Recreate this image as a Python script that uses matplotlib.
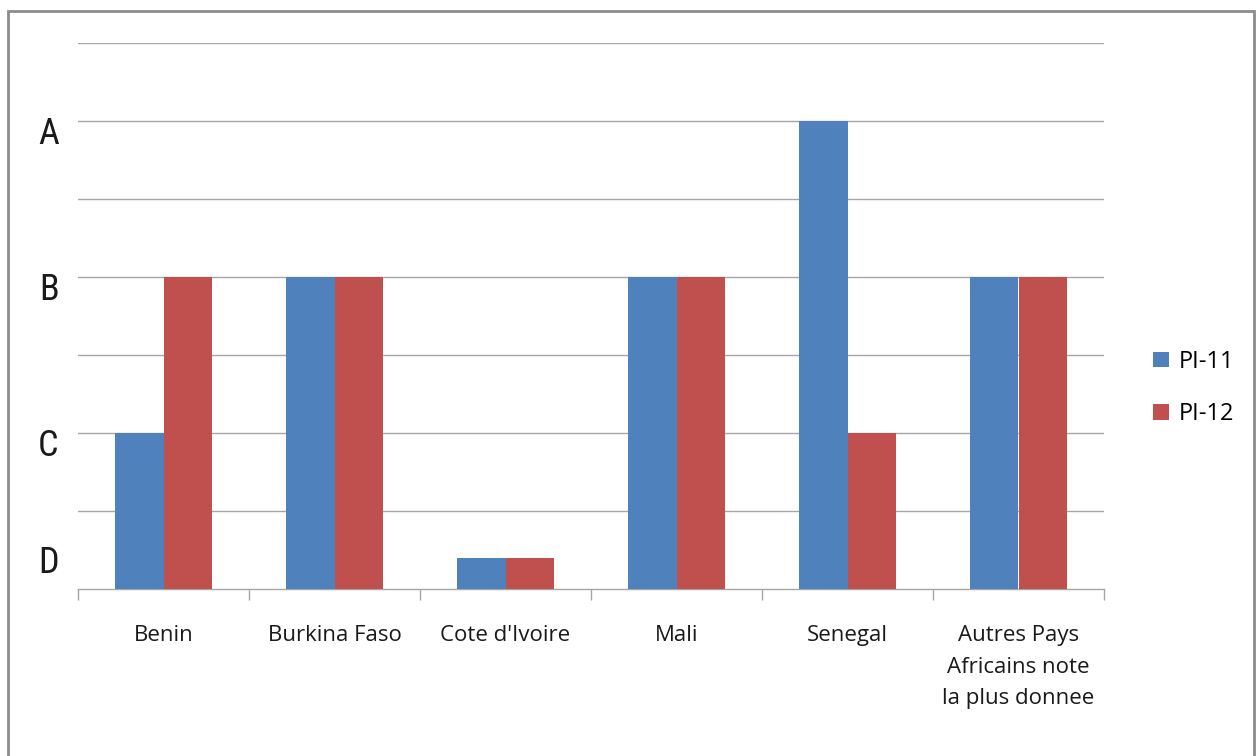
import matplotlib
matplotlib.use("Agg")
import matplotlib.pyplot as plt
from matplotlib.patches import Rectangle
from matplotlib.transforms import ScaledTranslation
from matplotlib import font_manager
import numpy as np

categories = ["Benin", "Burkina Faso", "Cote d'Ivoire", "Mali", "Senegal",
              "Autres Pays\nAfricains note\nla plus donnee"]
pi11 = [2, 4, 0.4, 4, 6, 4]
pi12 = [4, 4, 0.4, 4, 2, 4]
grade_labels = ["A", "B", "C", "D"]
grade_values = [6, 4, 2, 0.5]

names = {f.name for f in font_manager.fontManager.ttflist}
narrow = [n for n in ["Liberation Sans Narrow", "DejaVu Sans Condensed", "Roboto Condensed"]
          if n in names]

W, H = 1256, 756
fig = plt.figure(figsize=(W / 100, H / 100), dpi=100)
ax = fig.add_axes([78 / W, 1 - 589 / H, (1104 - 78) / W, (589 - 43) / H])

blue = "#4F81BD"
red = "#C0504D"
grid_c = "#A6A6A6"
x = np.arange(len(categories))
bw = 0.284
ax.bar(x - bw / 2, pi11, bw, color=blue, label="PI-11", zorder=3)
ax.bar(x + bw / 2, pi12, bw, color=red, label="PI-12", zorder=3)

ax.set_xlim(-0.5, len(categories) - 0.5)
ax.set_ylim(0, 7)

for v in range(1, 8):
    ax.axhline(v, color=grid_c, lw=1.0, zorder=1)

for s in ["left", "right", "top"]:
    ax.spines[s].set_visible(False)
ax.spines["bottom"].set_color(grid_c)
ax.spines["bottom"].set_linewidth(1.0)

# category boundaries as minor ticks, labels centred under each group
ax.set_xticks(x)
ax.set_xticklabels(categories, fontsize=16, family=["Open Sans", "DejaVu Sans"],
                   color="#1a1a1a", linespacing=1.65)
ax.tick_params(axis="x", which="major", length=0, pad=26)
ax.set_xticks(np.arange(-0.5, len(categories), 1), minor=True)
ax.tick_params(axis="x", which="minor", length=8, color=grid_c, width=1.0)

ax.set_yticks(grade_values)
ax.set_yticklabels(grade_labels, fontsize=26, family=narrow + ["DejaVu Sans"],
                   fontstretch="condensed", color="#1a1a1a")
ax.tick_params(axis="y", length=0, pad=14)
off = ScaledTranslation(0, -9 / 100, fig.dpi_scale_trans)
for lab in ax.get_yticklabels():
    lab.set_transform(lab.get_transform() + off)

leg = fig.legend(loc="center left", bbox_to_anchor=(1132 / W, 1 - 388 / H),
                 frameon=False, handlelength=0.65, handleheight=0.65,
                 handletextpad=0.45, labelspacing=1.2,
                 prop={"family": ["Open Sans", "DejaVu Sans"], "size": 17})

fig.patches.append(Rectangle((8 / W, -0.01), (1254 - 8) / W, 1 - 11 / H + 0.01,
                             transform=fig.transFigure, fill=False,
                             edgecolor="#8C8C8C", lw=2.0))

fig.savefig("out.png", dpi=100)
